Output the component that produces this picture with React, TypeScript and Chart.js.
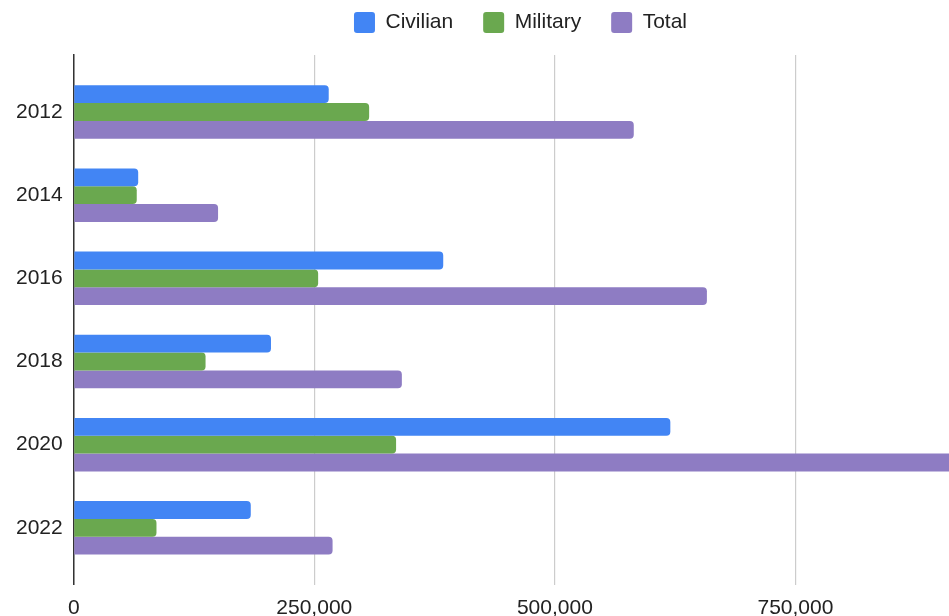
import { useEffect, useRef } from "react";
import { Chart, registerables, type ChartConfiguration, type Plugin } from "chart.js";

Chart.register(...registerables);

const years = [2012, 2014, 2016, 2018, 2020, 2022];
const civilian = [265000, 67000, 384000, 205000, 620000, 184000];
const military = [307000, 65500, 254000, 137000, 335000, 86000];
const total = [582000, 150000, 658000, 341000, 965000, 269000];
const xTicks = [0, 250000, 500000, 750000];

const FONT = "'Liberation Sans', Arial, sans-serif";
const INK = "#222222";

// legend padding is wide for the item gaps; fix the room it leaves above the plot
const legendGap: Plugin<"bar"> = {
  id: "legendGap",
  beforeInit(chart) {
    const legend: any = chart.legend;
    if (!legend) return;
    const fit = legend.fit;
    legend.fit = function () {
      fit.call(this);
      this.height += 12;
    };
  },
};

const series = (label: string, values: number[], color: string) => ({
  label,
  data: years.map((y, i) => ({ x: values[i], y })),
  backgroundColor: color,
  borderRadius: 4,
  categoryPercentage: 0.643,
  barPercentage: 1,
});

export default function App() {
  const canvasRef = useRef<HTMLCanvasElement | null>(null);

  useEffect(() => {
    const canvas = canvasRef.current;
    if (!canvas) return;

    const config: ChartConfiguration<"bar", { x: number; y: number }[]> = {
      type: "bar",
      data: {
        datasets: [
          series("Civilian", civilian, "#4285f4"),
          series("Military", military, "#6aa84f"),
          series("Total", total, "#8e7cc3"),
        ],
      },
      options: {
        indexAxis: "y",
        responsive: true,
        maintainAspectRatio: false,
        animation: false,
        layout: { padding: { top: -18, left: 5, right: 0, bottom: 0 } },
        plugins: {
          legend: {
            position: "top",
            labels: {
              boxWidth: 21,
              boxHeight: 21,
              useBorderRadius: true,
              borderRadius: 3,
              padding: 30,
              color: INK,
              font: { size: 21, family: FONT },
            },
          },
          tooltip: { enabled: false },
        },
        scales: {
          x: {
            type: "linear",
            position: "bottom",
            min: 0,
            max: 1000000,
            afterBuildTicks: (scale) => {
              scale.ticks = xTicks.map((value) => ({ value }));
            },
            ticks: {
              padding: 11,
              color: INK,
              font: { size: 21, family: FONT },
              maxRotation: 0,
              callback: (v) => Number(v).toLocaleString("en-US"),
            },
            grid: { color: "#cccccc", lineWidth: 1.2, drawTicks: false },
            border: { display: false },
          },
          y: {
            type: "linear",
            reverse: true,
            offset: false,
            min: years[0] - 1.37,
            max: years[years.length - 1] + 1.37,
            afterBuildTicks: (scale) => {
              scale.ticks = years.map((value) => ({ value }));
            },
            ticks: {
              padding: 11,
              color: INK,
              font: { size: 21, family: FONT },
              callback: (v) => String(v),
            },
            grid: { display: false, drawTicks: false },
            border: { display: true, color: "#333333", width: 1.5 },
          },
        },
      },
      plugins: [legendGap],
    };

    const chart = new Chart(canvas, config);
    return () => chart.destroy();
  }, []);

  return (
    <div
      style={{
        position: "fixed",
        left: 0,
        top: 0,
        width: 949,
        height: 616,
        overflow: "hidden",
        background: "#ffffff",
      }}
    >
      <div style={{ position: "relative", width: 1036, height: 632 }}>
        <canvas
          ref={canvasRef}
          role="img"
          aria-label="Civilian, military and total by year, 2012 to 2022"
        />
      </div>
    </div>
  );
}
